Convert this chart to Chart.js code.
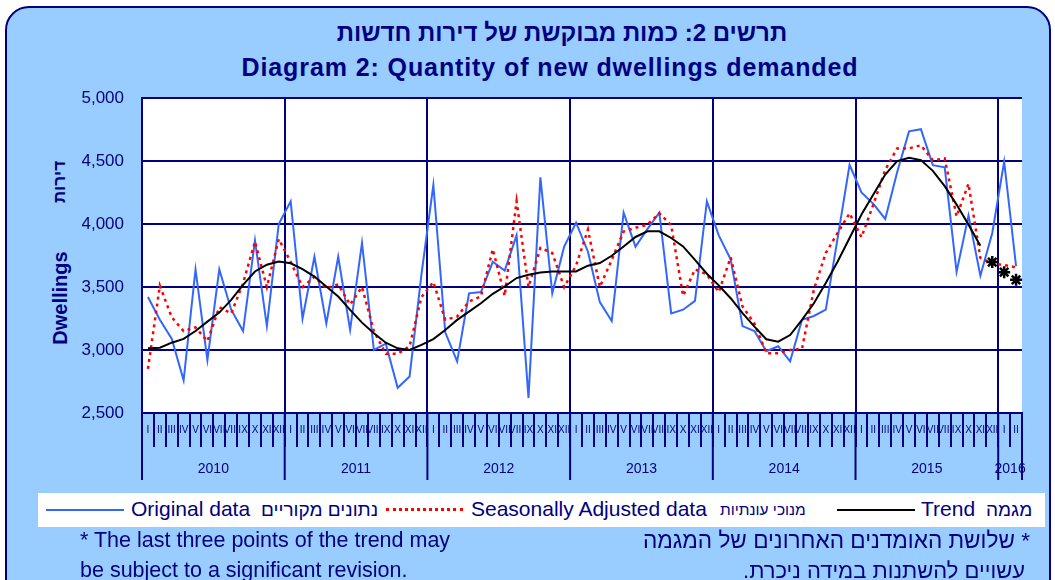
<!DOCTYPE html>
<html>
<head>
<meta charset="utf-8">
<script src="https://cdn.jsdelivr.net/npm/chart.js@4/dist/chart.umd.min.js"></script>
<style>
  body { margin: 0; width: 1055px; height: 580px; overflow: hidden; background: #fff;
         font-family: "Liberation Sans", Arial, sans-serif; color: #000080; position: relative; }
  #frame { position: absolute; left: 5px; top: 6px; width: 1042px; height: 620px; background: #99ccff;
           border: 2px solid #000080; border-radius: 24px; }
  #wrap { position: absolute; left: 0; top: 0; width: 1055px; height: 580px; }
  .title { position: absolute; left: 0; width: 1100px; text-align: center; font-weight: bold; white-space: nowrap; }
  .ytitle { position: absolute; font-weight: bold; transform: translate(-50%, -50%) rotate(-90deg); white-space: nowrap; }
  #legend { position: absolute; left: 38px; top: 493px; width: 1007px; height: 34px; background: #fff; }
  #legend span { position: absolute; top: 4px; font-size: 21px; white-space: nowrap; }
  #legend span.he { top: 6px; font-size: 19px; }
  #legend i { position: absolute; top: 16px; display: block; }
  .note { position: absolute; font-size: 21.5px; white-space: nowrap; }
  .note.he { font-size: 22px; }
</style>
</head>
<body>
<div id="frame"></div>
<div class="title" style="top:19px; left:12px; font-size:24px" dir="rtl">תרשים 2: כמות מבוקשת של דירות חדשות</div>
<div class="title" style="top:53px; font-size:25px; letter-spacing:0.9px">Diagram 2: Quantity of new dwellings demanded</div>
<div class="ytitle" style="left:60px; top:182px; font-size:17px">דירות</div>
<div class="ytitle" style="left:60px; top:298px; font-size:20px">Dwellings</div>
<div id="wrap"><canvas id="chart" width="1055" height="580"></canvas></div>
<div id="legend">
  <i style="left:8px; width:78px; border-top:2px solid #3366ff"></i>
  <span style="left:93px">Original data</span>
  <span class="he" style="left:223px" dir="rtl">נתונים מקוריים</span>
  <i style="left:348px; width:77px; border-top:3px dotted #ff0000; top:15px"></i>
  <span style="left:433px">Seasonally Adjusted data</span>
  <span class="he" style="left:682px; font-size:15.5px; top:8px" dir="rtl">מנוכי עונתיות</span>
  <i style="left:799px; width:78px; border-top:2px solid #000"></i>
  <span style="left:883px">Trend</span>
  <span class="he" style="left:948px" dir="rtl">מגמה</span>
</div>
<div class="note" style="left:80px; top:528px">* The last three points of the trend may</div>
<div class="note" style="left:80px; top:558px">be subject to a significant revision.</div>
<div class="note he" style="right:25px; top:528px; font-size:22.6px" dir="rtl">* שלושת האומדנים האחרונים של המגמה</div>
<div class="note he" style="right:30px; top:558px" dir="rtl">עשויים להשתנות במידה ניכרת.</div>

<script>
// --- data (monthly, Jan 2010 - Feb 2016) ---
const months = ['I', 'II', 'III', 'IV', 'V', 'VI', 'VII', 'VIII', 'IX', 'X', 'XI', 'XII'];
const years = [2010, 2011, 2012, 2013, 2014, 2015, 2016];
const nPoints = 74;

const original = [
  3420, 3240, 3090, 2760, 3640, 2920, 3640, 3320, 3150, 3870, 3190, 4000,
  4180, 3250, 3740, 3210, 3740, 3160, 3850, 3000, 3050, 2700, 2790, 3600,
  4310, 3140, 2910, 3450, 3460, 3700, 3630, 3910, 2620, 4370, 3450, 3820,
  4010, 3780, 3380, 3230, 4090, 3820, 3960, 4090, 3290, 3320, 3390, 4180,
  3910, 3720, 3190, 3150, 2990, 3030, 2910, 3240, 3270, 3320, 3890, 4470,
  4250, 4160, 4040, 4410, 4735, 4752, 4467, 4450, 3620, 4067, 3590, 3929,
  4495, 3665
];
const seasonal = [
  2850, 3510, 3260, 3150, 3180, 3070, 3340, 3290, 3530, 3860, 3500, 3880,
  3700, 3500, 3580, 3490, 3520, 3360, 3500, 3150, 2970, 2970, 3030, 3420,
  3540, 3240, 3265, 3385, 3425, 3800, 3430, 4180, 3500, 3810, 3770, 3500,
  3670, 3955, 3500, 3715, 3940, 3970, 3995, 4085, 3990, 3430, 3640, 3600,
  3460, 3735, 3345, 3210, 2975, 2975, 3000, 3010, 3480, 3770, 3930, 4085,
  3895, 4155, 4430, 4600, 4600, 4625, 4505, 4520, 4060, 4320, 3730, 3685,
  3675, 3655
];
const trend = [
  3013, 3018, 3058, 3088, 3151, 3225, 3297, 3398, 3517, 3623, 3677, 3703,
  3688, 3642, 3583, 3504, 3424, 3318, 3217, 3133, 3058, 3013, 3000, 3040,
  3086, 3159, 3239, 3305, 3371, 3446, 3504, 3571, 3597, 3615, 3623, 3623,
  3623, 3669, 3690, 3748, 3822, 3897, 3942, 3942, 3889, 3822, 3716, 3605,
  3513, 3411, 3292, 3186, 3085, 3066, 3119, 3239, 3371, 3531, 3703, 3889,
  4075, 4234, 4393, 4499, 4525, 4507, 4422, 4300, 4154, 3995, 3828
];
// last three trend points (may be revised) - drawn as stars
const trendLast = [3698, 3618, 3557];
const yTicks = [2500, 3000, 3500, 4000, 4500, 5000];

const NAVY = '#000080';

const labels = [];
for (let i = 0; i < nPoints; i++) labels.push(months[i % 12]);
const starData = labels.map((_, i) => i >= nPoints - trendLast.length ? trendLast[i - (nPoints - trendLast.length)] : null);

// white plot background
const plotBg = {
  id: 'plotBg',
  beforeDraw(chart) {
    const a = chart.chartArea, c = chart.ctx;
    c.save();
    c.fillStyle = '#fff';
    c.fillRect(a.left, a.top, a.right - a.left, a.bottom - a.top);
    c.restore();
  }
};

// year labels + long separators under the month axis
const yearAxis = {
  id: 'yearAxis',
  afterDraw(chart) {
    const x = chart.scales.x, a = chart.chartArea, c = chart.ctx;
    const half = (x.getPixelForValue(1) - x.getPixelForValue(0)) / 2;
    c.save();
    c.strokeStyle = NAVY;
    c.lineWidth = 2;
    c.fillStyle = NAVY;
    c.font = '14px "Liberation Sans", Arial, sans-serif';
    c.textAlign = 'center';
    c.textBaseline = 'middle';
    years.forEach((yr, k) => {
      const first = k * 12;
      const last = Math.min(first + 11, nPoints - 1);
      const l = x.getPixelForValue(first) - half;
      const r = x.getPixelForValue(last) + half;
      c.beginPath(); c.moveTo(l, a.bottom); c.lineTo(l, a.bottom + 67); c.stroke();
      c.fillText(String(yr), (l + r) / 2, a.bottom + 56);
    });
    c.beginPath(); c.moveTo(a.right, a.bottom); c.lineTo(a.right, a.bottom + 67); c.stroke();
    c.restore();
  }
};

new Chart(document.getElementById('chart'), {
  type: 'line',
  data: {
    labels: labels,
    datasets: [
      { label: 'Trend', data: trend, borderColor: '#000', borderWidth: 2, pointRadius: 0, order: 0 },
      { label: 'Trend (last)', data: starData, showLine: false, pointStyle: 'star', pointRadius: 6,
        borderColor: '#000', borderWidth: 2.5, order: 0 },
      { label: 'Seasonally Adjusted data', data: seasonal, borderColor: '#ff0000', borderWidth: 2.5,
        borderDash: [3, 4], pointRadius: 0, order: 1 },
      { label: 'Original data', data: original, borderColor: '#3366ff', borderWidth: 2, pointRadius: 0, order: 2 }
    ]
  },
  options: {
    responsive: false,
    animation: false,
    layout: { padding: { left: 82, right: 33, top: 98, bottom: 87 } },
    plugins: { legend: { display: false }, tooltip: { enabled: false } },
    scales: {
      x: {
        offset: true,
        afterFit: s => { s.height = 80; },
        grid: {
          offset: true,
          color: ctx => (ctx.index % 12 === 0 || ctx.index === nPoints) ? NAVY : 'rgba(0,0,0,0)',
          lineWidth: 2,
          tickColor: NAVY,
          tickWidth: 2,
          tickLength: 34
        },
        border: { color: NAVY, width: 2 },
        ticks: { autoSkip: false, maxRotation: 0, minRotation: 0, padding: -23, color: NAVY,
                 font: { family: '"Liberation Sans", Arial, sans-serif', size: 10 } }
      },
      y: {
        min: 2500, max: 5000,
        afterFit: s => { s.width = 60; },
        afterBuildTicks: s => { s.ticks = yTicks.map(v => ({ value: v })); },
        grid: { color: NAVY, lineWidth: 2, drawTicks: false },
        border: { color: NAVY, width: 2 },
        ticks: { padding: 18, color: NAVY, font: { family: '"Liberation Sans", Arial, sans-serif', size: 17 },
                 callback: v => v.toLocaleString('en-US') }
      }
    }
  },
  plugins: [plotBg, yearAxis]
});
</script>
</body>
</html>
